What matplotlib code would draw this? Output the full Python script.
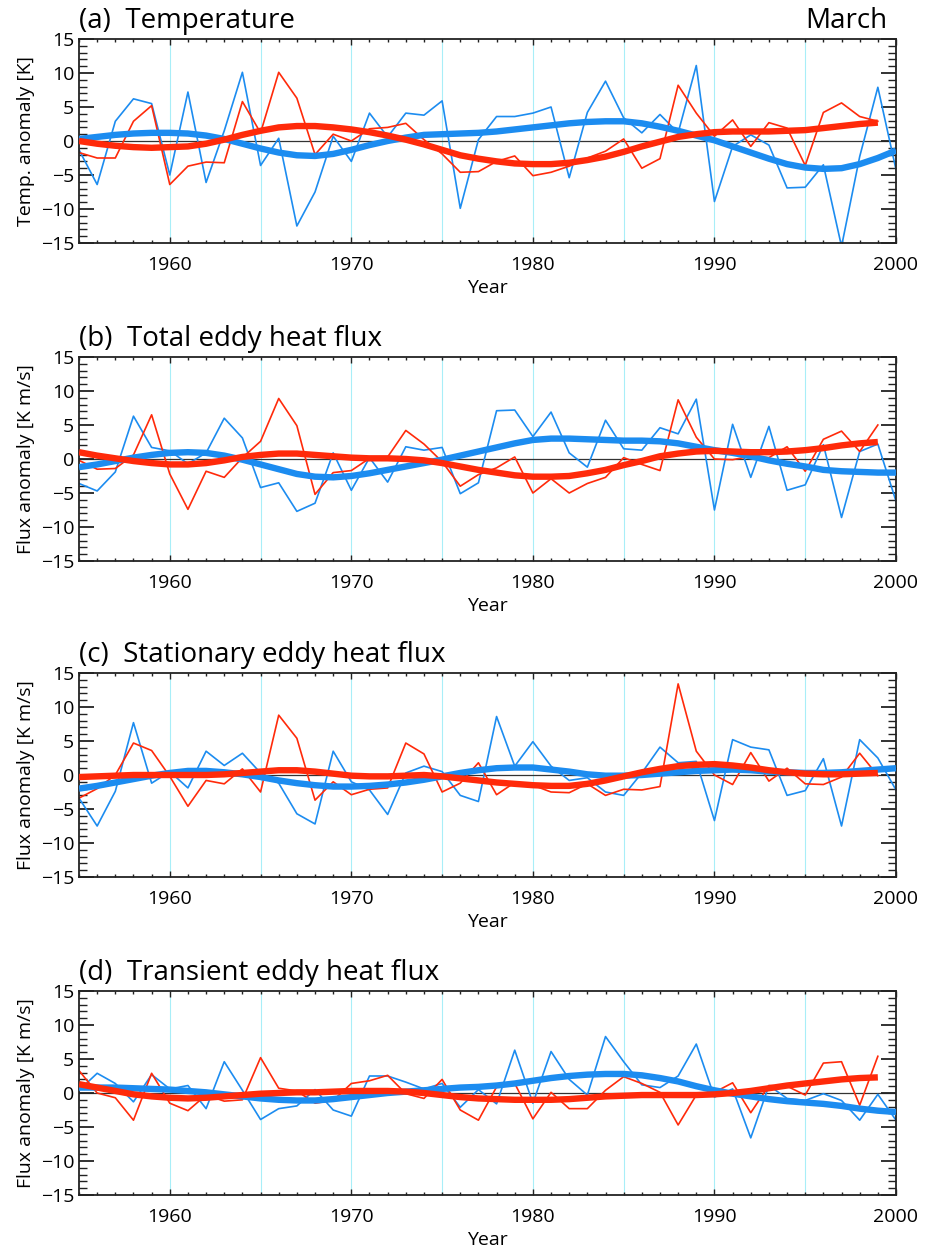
import numpy as np
import matplotlib
matplotlib.use("Agg")
import matplotlib.pyplot as plt
from matplotlib.ticker import MultipleLocator

plt.rcParams['font.family'] = ['Open Sans', 'DejaVu Sans']

# years: blue series run 1955-2000, red series 1955-1999
years_blue = list(range(1955, 2001))
years_red = list(range(1955, 2000))

# (a) Temperature
temp_blue = [-1.3, -6.4, 2.9, 6.2, 5.5, -5.0, 7.2, -6.1, 1.5, 10.1,
             -3.6, 0.4, -12.5, -7.5, 0.7, -3.0, 4.1, 0.6, 4.1, 3.8,
             5.9, -9.9, 0.2, 3.6, 3.6, 4.1, 5.0, -5.4, 4.2, 8.8,
             3.4, 1.2, 3.9, 1.2, 11.1, -8.9, -0.8, 0.9, -0.6, -6.9,
             -6.8, -3.5, -15.5, -2.3, 7.9, -4.2]
temp_red = [-1.7, -2.5, -2.5, 2.9, 5.2, -6.4, -3.7, -3.1, -3.2, 5.8,
            1.2, 10.1, 6.3, -2.0, 1.0, 0.0, 1.8, 2.0, 2.6, 0.2,
            -1.9, -4.6, -4.5, -3.0, -2.2, -5.1, -4.6, -3.7, -2.5, -1.5,
            0.3, -4.0, -2.6, 8.2, 4.1, 0.7, 3.1, -0.8, 2.7, 1.9,
            -3.6, 4.2, 5.6, 3.6, 2.9]
temp_blue_smooth = [0.3, 0.6, 0.9, 1.1, 1.2, 1.2, 1.1, 0.8, 0.3, -0.4,
                    -1.1, -1.7, -2.1, -2.2, -1.9, -1.3, -0.6, 0.0, 0.5, 0.9,
                    1.0, 1.1, 1.2, 1.4, 1.7, 2.0, 2.3, 2.6, 2.8, 2.9,
                    2.9, 2.6, 2.1, 1.5, 0.8, 0.1, -0.8, -1.7, -2.6, -3.4,
                    -3.9, -4.1, -4.0, -3.4, -2.5, -1.4]
temp_red_smooth = [0.0, -0.4, -0.7, -0.9, -1.0, -0.9, -0.8, -0.4, 0.2, 0.9,
                   1.5, 2.0, 2.2, 2.2, 2.0, 1.7, 1.3, 0.8, 0.2, -0.5,
                   -1.3, -2.1, -2.6, -3.0, -3.3, -3.4, -3.4, -3.2, -2.8, -2.3,
                   -1.6, -0.8, -0.1, 0.6, 1.0, 1.3, 1.4, 1.4, 1.4, 1.5,
                   1.6, 1.9, 2.2, 2.5, 2.7]

# (b) Total eddy heat flux
total_blue = [-3.6, -4.7, -1.9, 6.3, 1.7, 1.2, -0.7, 0.9, 6.0, 3.1,
              -4.2, -3.5, -7.7, -6.5, 0.9, -4.6, 0.2, -3.4, 1.8, 1.3,
              1.7, -5.1, -3.5, 7.1, 7.2, 3.3, 6.9, 0.9, -1.2, 5.7,
              1.5, 1.3, 4.6, 3.7, 8.8, -7.5, 5.1, -2.7, 4.8, -4.6,
              -3.8, 2.1, -8.6, 1.1, 2.2, -6.2]
total_red = [-0.2, -1.5, -1.4, 0.6, 6.5, -2.2, -7.4, -1.8, -2.7, 0.2,
             2.6, 8.9, 4.9, -5.2, -2.0, -1.7, 0.1, 0.3, 4.2, 2.2,
             -0.4, -4.0, -2.3, -1.3, 0.3, -5.0, -2.9, -5.0, -3.6, -2.7,
             0.2, -0.8, -1.7, 8.7, 3.2, 0.0, -0.1, 0.4, 0.2, 1.8,
             -1.8, 2.9, 4.1, 1.1, 5.0]
total_blue_smooth = [-1.2, -0.8, -0.3, 0.2, 0.6, 0.9, 1.0, 0.9, 0.5, -0.1,
                     -0.8, -1.5, -2.2, -2.6, -2.7, -2.5, -2.1, -1.6, -1.1, -0.6,
                     -0.1, 0.5, 1.1, 1.7, 2.3, 2.8, 3.0, 3.0, 2.9, 2.8,
                     2.7, 2.7, 2.6, 2.3, 1.8, 1.3, 0.9, 0.4, -0.2, -0.7,
                     -1.1, -1.6, -1.8, -1.9, -2.0, -2.0]
total_red_smooth = [1.0, 0.5, 0.1, -0.3, -0.6, -0.8, -0.8, -0.6, -0.2, 0.3,
                    0.6, 0.8, 0.8, 0.6, 0.4, 0.2, 0.1, 0.1, 0.0, -0.2,
                    -0.6, -1.1, -1.6, -2.0, -2.4, -2.6, -2.6, -2.5, -2.1, -1.6,
                    -0.9, -0.3, 0.4, 0.8, 1.1, 1.2, 1.1, 1.0, 1.0, 1.1,
                    1.3, 1.6, 2.0, 2.3, 2.5]

# (c) Stationary eddy heat flux
stat_blue = [-3.4, -7.5, -2.4, 7.7, -1.2, 0.5, -1.9, 3.5, 1.4, 3.2,
             0.3, -1.2, -5.7, -7.2, 3.5, -1.0, -2.2, -5.8, 0.3, 1.3,
             0.5, -3.0, -3.9, 8.6, 1.3, 4.9, 1.3, -0.8, -0.4, -2.5,
             -3.0, 0.3, 4.1, 1.8, 2.0, -6.7, 5.2, 4.1, 3.7, -3.0,
             -2.3, 2.4, -7.5, 5.2, 2.5, -2.2]
stat_red = [-3.4, -2.0, 0.0, 4.7, 3.6, -0.2, -4.6, -0.8, -1.3, 0.9,
            -2.5, 8.8, 5.4, -3.7, -1.0, -2.9, -2.1, -1.9, 4.7, 3.1,
            -2.5, -1.2, 1.8, -2.9, -1.1, -1.5, -2.5, -2.6, -1.3, -3.0,
            -2.1, -2.2, -1.7, 13.4, 3.5, 0.0, -1.4, 3.3, -0.9, 1.0,
            -1.3, -1.4, -0.3, 3.2, -0.1]
stat_blue_smooth = [-2.0, -1.6, -1.1, -0.6, -0.1, 0.3, 0.6, 0.6, 0.4, 0.1,
                    -0.3, -0.8, -1.2, -1.5, -1.7, -1.7, -1.6, -1.4, -1.1, -0.7,
                    -0.2, 0.3, 0.7, 1.0, 1.1, 1.1, 0.8, 0.5, 0.1, -0.1,
                    -0.1, 0.0, 0.2, 0.4, 0.6, 0.7, 0.8, 0.7, 0.5, 0.4,
                    0.3, 0.3, 0.4, 0.6, 0.8, 1.0]
stat_red_smooth = [-0.3, -0.2, -0.1, 0.0, 0.0, 0.0, 0.0, 0.0, 0.1, 0.3,
                   0.5, 0.7, 0.7, 0.5, 0.2, -0.1, -0.2, -0.2, -0.1, 0.0,
                   -0.2, -0.5, -0.8, -1.1, -1.3, -1.5, -1.6, -1.6, -1.3, -0.8,
                   -0.2, 0.4, 0.9, 1.3, 1.5, 1.6, 1.4, 1.1, 0.7, 0.4,
                   0.2, 0.1, 0.1, 0.2, 0.3]

# (d) Transient eddy heat flux
trans_blue = [0.4, 2.9, 1.4, -1.3, 2.7, 0.6, 1.1, -2.3, 4.6, 0.4,
              -3.9, -2.3, -1.9, 0.5, -2.5, -3.4, 2.5, 2.5, 1.6, 0.6,
              1.4, -2.1, 0.5, -1.6, 6.3, -1.5, 6.1, 2.0, -0.3, 8.3,
              4.6, 1.2, 0.8, 2.5, 7.2, -0.6, 0.6, -6.6, 1.1, -0.8,
              -1.1, -0.1, -1.1, -4.0, -0.2, -4.0]
trans_red = [3.3, 0.0, -0.7, -4.0, 2.9, -1.5, -2.6, -0.3, -1.2, -1.0,
             5.2, 0.7, 0.3, -1.5, -1.1, 1.4, 1.8, 2.6, -0.1, -0.8,
             2.0, -2.5, -4.0, 0.9, 1.4, -3.8, 0.1, -2.3, -2.3, 0.4,
             2.4, 1.4, 0.1, -4.7, -0.3, 0.1, 1.5, -2.9, 1.1, 1.0,
             -0.3, 4.4, 4.6, -1.8, 5.4]
trans_blue_smooth = [0.8, 0.8, 0.8, 0.7, 0.6, 0.5, 0.3, 0.1, -0.2, -0.5,
                     -0.8, -1.0, -1.1, -1.1, -0.9, -0.6, -0.3, 0.0, 0.2, 0.4,
                     0.6, 0.8, 0.9, 1.1, 1.4, 1.8, 2.2, 2.5, 2.7, 2.8,
                     2.8, 2.6, 2.2, 1.7, 1.0, 0.4, -0.1, -0.5, -0.9, -1.2,
                     -1.4, -1.6, -1.9, -2.3, -2.6, -2.8]
trans_red_smooth = [1.3, 0.8, 0.3, -0.2, -0.5, -0.7, -0.8, -0.7, -0.5, -0.3,
                    -0.1, 0.0, 0.1, 0.1, 0.2, 0.3, 0.3, 0.3, 0.2, 0.0,
                    -0.3, -0.6, -0.8, -0.9, -1.0, -1.0, -1.0, -0.9, -0.7, -0.5,
                    -0.4, -0.3, -0.3, -0.3, -0.3, -0.2, 0.0, 0.3, 0.7, 1.1,
                    1.4, 1.7, 2.0, 2.2, 2.3]

panels = [
    ("(a)  Temperature", "Temp. anomaly [K]",
     temp_blue, temp_red, temp_blue_smooth, temp_red_smooth),
    ("(b)  Total eddy heat flux", "Flux anomaly [K m/s]",
     total_blue, total_red, total_blue_smooth, total_red_smooth),
    ("(c)  Stationary eddy heat flux", "Flux anomaly [K m/s]",
     stat_blue, stat_red, stat_blue_smooth, stat_red_smooth),
    ("(d)  Transient eddy heat flux", "Flux anomaly [K m/s]",
     trans_blue, trans_red, trans_blue_smooth, trans_red_smooth),
]

blue = '#1c8cf0'
red = '#ff2a0a'

fig = plt.figure(figsize=(9.25, 12.52), dpi=100)
left, width = 79 / 925, 817 / 925
tops = [39, 357, 673, 991]
height_px = 204

for i, (title, ylab, b, r, bs, rs) in enumerate(panels):
    bottom = 1 - (tops[i] + height_px) / 1252
    ax = fig.add_axes([left, bottom, width, height_px / 1252])

    # light vertical guides every 5 years
    for yr in range(1960, 2000, 5):
        ax.axvline(yr, color='#a8eef8', lw=0.8, zorder=0)
    ax.axhline(0, color='#333333', lw=0.9, zorder=1)

    ax.plot(years_blue, b, color=blue, lw=1.2, zorder=2)
    ax.plot(years_red, r, color=red, lw=1.2, zorder=2)
    ax.plot(years_blue, bs, color=blue, lw=4.6, zorder=3, solid_capstyle='butt')
    ax.plot(years_red, rs, color=red, lw=4.6, zorder=4, solid_capstyle='butt')

    ax.set_xlim(1955, 2000)
    ax.set_ylim(-15, 15)
    ax.xaxis.set_major_locator(MultipleLocator(10))
    ax.xaxis.set_minor_locator(MultipleLocator(1))
    ax.yaxis.set_major_locator(MultipleLocator(5))
    ax.yaxis.set_minor_locator(MultipleLocator(1))
    ax.tick_params(axis='both', which='both', direction='in', top=True, right=True,
                   labelsize=14, color='#222222')
    ax.tick_params(axis='y', which='major', length=11, width=1.3)
    ax.tick_params(axis='y', which='minor', length=5.5, width=1.0)
    ax.tick_params(axis='x', which='major', length=4, width=1.0, pad=9)
    ax.tick_params(axis='x', which='minor', length=2.5, width=1.0)
    for s in ax.spines.values():
        s.set_linewidth(1.3)
        s.set_color('#222222')

    ax.set_xlabel("Year", fontsize=14, labelpad=4)
    ax.set_ylabel(ylab, fontsize=14, labelpad=4)
    ax.text(0.0, 1.02, title, transform=ax.transAxes, fontsize=20,
            ha='left', va='bottom')
    if i == 0:
        ax.text(0.99, 1.02, "March", transform=ax.transAxes, fontsize=20,
                ha='right', va='bottom')

fig.savefig("out.png", dpi=100)
